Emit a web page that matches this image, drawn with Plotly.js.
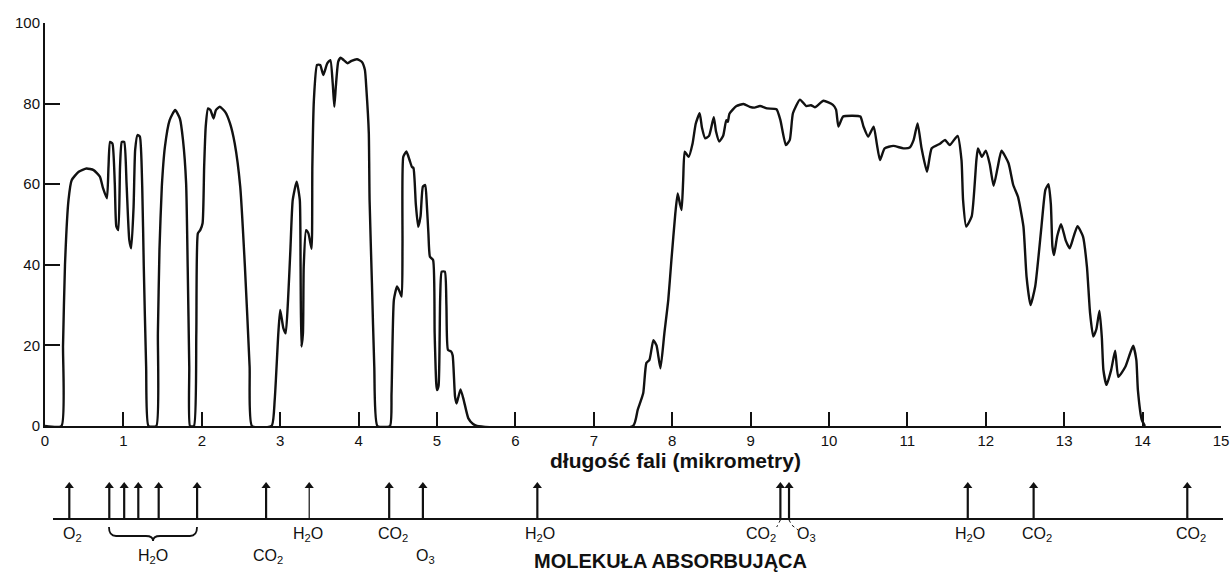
<!DOCTYPE html>
<html>
<head>
<meta charset="utf-8">
<script src="https://cdn.plot.ly/plotly-3.0.1.min.js"></script>
<style>html,body{margin:0;padding:0;background:#fff;}#chart{width:1231px;height:574px;}</style>
</head>
<body>
<div id="chart"></div>
<script>
// Spectrum: wavelength (micrometres) and transmission (%)
const wavelength = [
  0, 0.21, 0.23, 0.255, 0.30, 0.34, 0.43, 0.53, 0.62, 0.70, 0.74, 0.79,
  0.81, 0.83, 0.86, 0.89, 0.91, 0.935, 0.957, 0.98, 1.01, 1.04, 1.075, 1.10, 1.13, 1.15, 1.18, 1.21, 1.24, 1.26, 1.29, 1.32,
  1.42, 1.44, 1.46, 1.49, 1.53, 1.59, 1.66, 1.72, 1.76, 1.80, 1.82, 1.84, 1.85,
  1.90, 1.93, 1.95, 1.98, 2.01, 2.03, 2.05, 2.08, 2.11, 2.15, 2.18, 2.23, 2.30, 2.36, 2.42, 2.49, 2.55, 2.61, 2.64,
  2.89, 2.93, 2.976, 3.00, 3.04, 3.07, 3.10, 3.13, 3.16, 3.21, 3.25, 3.26, 3.27, 3.29, 3.30, 3.33, 3.36, 3.40, 3.41, 3.43,
  3.47, 3.51, 3.55, 3.60, 3.64, 3.67, 3.69, 3.71, 3.74, 3.77, 3.81, 3.86, 3.91, 3.98, 4.04, 4.08, 4.10, 4.13, 4.14, 4.17, 4.20, 4.24,
  4.40, 4.42, 4.45, 4.49, 4.52, 4.55, 4.56, 4.57, 4.61, 4.65, 4.68, 4.70, 4.73, 4.76, 4.79, 4.82, 4.85, 4.87, 4.89, 4.91, 4.95,
  4.97, 4.99, 5.00, 5.02, 5.04, 5.06, 5.10, 5.12, 5.14, 5.18, 5.20, 5.23, 5.25, 5.27, 5.30, 5.34, 5.40, 5.46, 5.51,
  7.50, 7.56, 7.63, 7.67, 7.71, 7.76, 7.80, 7.85, 7.90, 7.95, 7.99, 8.04, 8.07, 8.10, 8.12, 8.14, 8.16, 8.21, 8.26, 8.30, 8.35,
  8.38, 8.42, 8.47, 8.53, 8.56, 8.60, 8.65, 8.69, 8.71, 8.73, 8.82, 8.91, 8.99, 9.05, 9.12, 9.21, 9.33, 9.38, 9.45, 9.50, 9.54,
  9.63, 9.71, 9.77, 9.82, 9.93, 10.05, 10.09, 10.12, 10.18, 10.30, 10.40, 10.44, 10.50, 10.57, 10.61, 10.65, 10.71, 10.82, 10.95,
  11.03, 11.08, 11.13, 11.18, 11.25, 11.31, 11.42, 11.48, 11.54, 11.64, 11.69, 11.71, 11.75, 11.82, 11.88, 11.90, 11.95, 12.00,
  12.05, 12.10, 12.15, 12.20, 12.29, 12.35, 12.41, 12.48, 12.52, 12.57, 12.63, 12.71, 12.76, 12.80, 12.83, 12.85, 12.87, 12.91,
  12.96, 13.02, 13.07, 13.12, 13.17, 13.24, 13.29, 13.33, 13.37, 13.41, 13.45, 13.48, 13.50, 13.54, 13.60, 13.65, 13.69, 13.78,
  13.84, 13.88, 13.92, 13.94, 13.99, 14.03
];
const transmission = [
  0, 0, 20, 40, 56.1, 61, 63.1, 63.9, 63.5, 61.9, 59, 56.5,
  64.3, 70.5, 70.1, 60.2, 49.5, 48.6, 64.3, 70.5, 70.5, 60.2, 46.2, 44.1, 54.4, 68.5, 72.2, 71.8, 59.4, 39.5, 14.7, 0,
  0, 23, 43.7, 59.4, 69.3, 75.9, 78.4, 76.3, 71, 60.2, 39.5, 14.7, 0,
  0, 23, 47.8, 48.6, 50.3, 64.3, 74.3, 78.8, 78.4, 76.3, 78.4, 79.2, 77.9, 75.1, 70.1, 59.4, 39.5, 14.7, 0,
  0, 6.5, 23, 28.8, 24.3, 23, 31.3, 43.7, 56.1, 60.6, 56.1, 39.5, 19.7, 23, 39.5, 48.6, 47.8, 44, 64.3, 81,
  89.6, 89.6, 87.1, 90, 90.8, 85, 79.2, 84.3, 90.4, 91.4, 90.8, 90, 90.6, 91, 90.4, 88.4, 83.4, 72.8, 56.1, 35.4, 14.7, 0,
  0, 8, 31.3, 34.6, 33.5, 32.1, 45, 66.8, 68.1, 66, 64.3, 64, 55, 49.4, 52, 59.4, 59.8, 55, 47.9, 42, 41.2,
  23, 10.6, 8.9, 10, 31.3, 38.3, 38.3, 30, 18.9, 18.5, 17.5, 7.3, 5.6, 7, 9.1, 6.5, 1.9, 0.5, 0,
  0, 4, 8.1, 15.6, 16.4, 21.3, 20, 14.3, 23, 31.3, 41.2, 52.8, 57.7, 55, 53.6, 61, 68.1, 66.8, 70.1, 75, 77.6,
  74, 71.4, 72, 76.6, 73, 70.6, 72, 75.9, 75.5, 77.5, 79.4, 79.9, 79.2, 79, 79.4, 78.8, 78.6, 75.9, 69.7, 71, 77.6,
  81, 79.4, 79.6, 79.1, 80.7, 79.7, 78.5, 74.3, 76.8, 77, 76.8, 74.3, 71.8, 74.3, 70, 66, 68.9, 69.5, 68.9,
  69.1, 71, 75.1, 69, 63.1, 68.9, 70.1, 71, 69.7, 72, 66, 56.1, 49.5, 52, 66, 68.9, 66.8, 68.3,
  65, 59.6, 64, 68.3, 65.2, 59.8, 56.9, 49.5, 37, 30, 34.6, 49.5, 58.6, 60, 55, 44.5, 42.4, 47,
  50.1, 46, 44.1, 47, 49.6, 47, 39.5, 28, 22.2, 24, 28.6, 22, 13.9, 10.2, 14, 18.7, 12.2, 14.7,
  18, 19.9, 16.4, 8.9, 1.5, 0
];

// Absorbing molecules: arrow wavelengths (the one at 3.37 is drawn thin in the original)
const absorptionWl = [0.31, 0.82, 1.01, 1.19, 1.45, 1.94, 2.82, 4.39, 4.82, 6.28, 9.38, 9.49, 11.77, 12.61, 14.57];
const absorptionWlThin = [3.37];
// Molecule labels and their wavelengths
const moleculeNames = ['O<sub>2</sub>', 'H<sub>2</sub>O', 'CO<sub>2</sub>', 'H<sub>2</sub>O', 'CO<sub>2</sub>', 'O<sub>3</sub>',
  'H<sub>2</sub>O', 'CO<sub>2</sub>', 'O<sub>3</sub>', 'H<sub>2</sub>O', 'CO<sub>2</sub>', 'CO<sub>2</sub>'];
const moleculeWl = [0.35, 1.378, 2.84, 3.35, 4.44, 4.85, 6.31, 9.13, 9.71, 11.80, 12.65, 14.62];
const moleculeLowRow = [false, true, true, false, false, true, false, false, false, false, false, false];

const xTickVals = [0,1,2,3,4,5,6,7,8,9,10,11,12,13,14,15];
const yTickVals = [0,20,40,60,80,100];

const xTitle = 'długość fali (mikrometry)';
const bottomTitle = 'MOLEKUŁA ABSORBUJĄCA';

// ---------- layout helpers (pixel geometry) ----------
const H = 574, mT = 23, mB = 4;
const plotH = H - mT - mB;
const py = p => (H - mB - p) / plotH; // pixel row -> paper y
const ink = '#111';
const labelFont = {family: 'Liberation Sans, Arial, sans-serif', size: 15, color: ink};
const moleculeFont = {family: 'Liberation Sans, Arial, sans-serif', size: 16, color: ink};

function shafts(list) {
  const xs = [], ys = [];
  list.forEach(w => { xs.push(w, w, null); ys.push(0, 1, null); });
  return {x: xs, y: ys};
}
const thick = shafts(absorptionWl), thin = shafts(absorptionWlThin);

const traces = [
  {x: wavelength, y: transmission, type: 'scatter', mode: 'lines',
   line: {color: ink, width: 2.4, shape: 'spline', smoothing: 0.5}, hoverinfo: 'skip'},
  {x: thick.x, y: thick.y, xaxis: 'x', yaxis: 'y2', type: 'scatter', mode: 'lines',
   line: {color: ink, width: 2.2}, hoverinfo: 'skip', cliponaxis: false},
  {x: thin.x, y: thin.y, xaxis: 'x', yaxis: 'y2', type: 'scatter', mode: 'lines',
   line: {color: ink, width: 1.2}, hoverinfo: 'skip', cliponaxis: false},
  {x: absorptionWl.concat(absorptionWlThin), y: absorptionWl.concat(absorptionWlThin).map(() => 1),
   xaxis: 'x', yaxis: 'y2', type: 'scatter', mode: 'markers',
   marker: {symbol: 'triangle-up', size: 8, color: ink, line: {width: 0}}, hoverinfo: 'skip', cliponaxis: false}
];

const annotations = [];
moleculeNames.forEach((m, i) => {
  annotations.push({
    x: moleculeWl[i], y: py(moleculeLowRow[i] ? 556 : 534), xref: 'x', yref: 'paper',
    text: m, showarrow: false, font: moleculeFont, xanchor: 'center', yanchor: 'middle'
  });
});
annotations.push({
  x: (675 - 45) / 1176, y: py(460), xref: 'paper', yref: 'paper', text: '<b>' + xTitle + '</b>',
  showarrow: false, font: {family: 'Liberation Sans, Arial, sans-serif', size: 21, color: ink},
  xanchor: 'center', yanchor: 'middle'
});
annotations.push({
  x: (670 - 45) / 1176, y: py(561), xref: 'paper', yref: 'paper', text: '<b>' + bottomTitle + '</b>',
  showarrow: false, font: {family: 'Liberation Sans, Arial, sans-serif', size: 20, color: ink},
  xanchor: 'center', yanchor: 'middle'
});

// brace under the H2O group
const bx0 = 0.816, bxc = 1.378, bx1 = 1.939, bd = 0.09;
const yTop = py(527), yMid = py(536), yTip = py(541);
const bracePath = `M ${bx0},${yTop} Q ${bx0},${yMid} ${bx0 + bd},${yMid} L ${bxc - bd},${yMid} Q ${bxc},${yMid} ${bxc},${yTip} Q ${bxc},${yMid} ${bxc + bd},${yMid} L ${bx1 - bd},${yMid} Q ${bx1},${yMid} ${bx1},${yTop}`;

const shapes = [
  {type: 'line', xref: 'paper', yref: 'paper', x0: (53 - 45) / 1176, x1: (1223 - 45) / 1176, y0: py(519), y1: py(519),
   line: {color: ink, width: 2.2}},
  {type: 'path', xref: 'x', yref: 'paper', path: bracePath, line: {color: ink, width: 1.8}},
  {type: 'path', xref: 'x', yref: 'paper', path: `M 9.38,${py(520)} L 9.333,${py(527)}`, line: {color: ink, width: 1, dash: 'dot'}},
  {type: 'path', xref: 'x', yref: 'paper', path: `M 9.49,${py(520)} L 9.524,${py(525)} L 9.605,${py(530)}`, line: {color: ink, width: 1, dash: 'dot'}}
];

const axisCommon = {
  showline: true, linecolor: ink, linewidth: 2, mirror: false,
  ticks: 'inside', tickwidth: 2, tickcolor: ink,
  showgrid: false, zeroline: false, fixedrange: true,
  tickfont: labelFont
};

const layout = {
  width: 1231, height: 574,
  margin: {l: 45, r: 10, t: mT, b: mB, pad: 0},
  paper_bgcolor: '#fff', plot_bgcolor: '#fff',
  showlegend: false,
  xaxis: Object.assign({}, axisCommon, {range: [0, 15], tickvals: xTickVals, ticktext: xTickVals.map(String), ticklen: 14}),
  yaxis: Object.assign({}, axisCommon, {range: [0, 100], domain: [py(426), 1], tickvals: yTickVals, ticktext: yTickVals.map(String), ticklen: 15}),
  yaxis2: {domain: [py(519), py(486)], range: [0, 1], visible: false, fixedrange: true, anchor: 'free', position: 0},
  annotations: annotations,
  shapes: shapes
};

Plotly.newPlot('chart', traces, layout, {staticPlot: true, displayModeBar: false});
</script>
</body>
</html>
